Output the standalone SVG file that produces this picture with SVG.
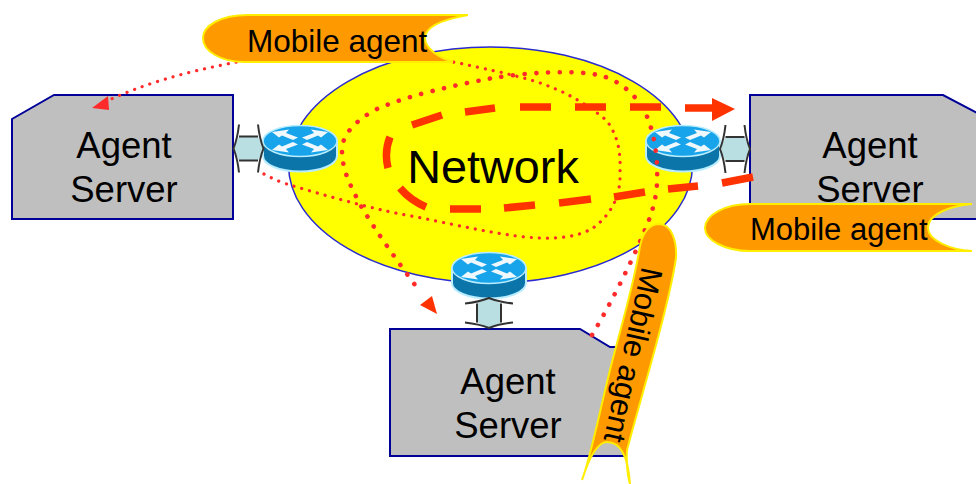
<svg xmlns="http://www.w3.org/2000/svg" width="976" height="484" viewBox="0 0 976 484">
<style>
text{font-family:"Liberation Sans",Arial,sans-serif;fill:#000}
.srv{fill:#bfbfbf;stroke:#000099;stroke-width:2}
.lbl{font-size:36.500px;text-anchor:middle}
.ma{font-size:31px}
.banner{fill:#ff9900;stroke:#ffee00;stroke-width:2}
.big{fill:none;stroke:#ff2a2a;stroke-width:4.600;stroke-linecap:round;stroke-dasharray:.1 11.600}
.small{fill:none;stroke:#ff2a2a;stroke-width:3.200;stroke-linecap:round;stroke-dasharray:.1 8}
.dash{fill:none;stroke:#ff3300;stroke-width:7.500}
</style>
<defs>
<polygon id="rarrow" points="-28,-9 -11,-11.500 -14,-8 -2,-3.500 -7,-1 -18,-5.500 -21,-3.500" fill="#eef8fd"/>
<g id="router">
<path d="M-37,0V15A37,15.500 0 0 0 37,15V0Z" fill="#0b74a8" stroke="#b8ecff" stroke-width="2"/>
<ellipse cx="0" cy="0" rx="37" ry="15.500" fill="#18a4ea" stroke="#b8ecff" stroke-width="1.500"/>
<use href="#rarrow"/>
<use href="#rarrow" transform="scale(-1,1)"/>
<use href="#rarrow" transform="scale(1,-1)"/>
<use href="#rarrow" transform="scale(-1,-1)"/>
</g>
<g id="link">
<path d="M-15,0 -9.500,-12H9.500L15,0 9.500,12H-9.500Z" fill="#b9dfe3"/>
<path d="M-9.500,-12H9.500M-9.500,12H9.500M-9.500,-24Q-11,-10 -15,0Q-11,10 -9.500,24M9.500,-24Q11,-10 15,0Q11,10 9.500,24" fill="none" stroke="#333" stroke-width="2"/>
</g>
</defs>

<g id="network">
<ellipse cx="490.500" cy="165" rx="202" ry="118" fill="#ffff00" stroke="#2a2ad0" stroke-width="1.500"/>
<text x="493" y="183" font-size="46.800" text-anchor="middle">Network</text>
</g>

<g id="server-left">
<polygon class="srv" points="12,119 54,95 233,95 233,219 12,219"/>
<text class="lbl" x="124" y="158">Agent</text>
<text class="lbl" x="124" y="202">Server</text>
</g>
<g id="server-right">
<polygon class="srv" points="750,95 943,95 977,113 977,219 750,219"/>
<text class="lbl" x="870" y="158">Agent</text>
<text class="lbl" x="870" y="202">Server</text>
</g>
<g id="server-bottom">
<polygon class="srv" points="390,329 580,329 610,347 626,347 626,456 390,456"/>
<text class="lbl" x="508" y="394">Agent</text>
<text class="lbl" x="508" y="438">Server</text>
</g>

<g id="router-left"><use href="#router" x="300" y="141"/></g>
<g id="router-right"><use href="#router" x="683" y="141"/></g>
<g id="router-bottom"><use href="#router" x="489" y="268"/></g>

<g id="connectors">
<use href="#link" transform="translate(248.500,148.500)"/>
<use href="#link" transform="translate(735,149)"/>
<use href="#link" transform="translate(489,313) rotate(90)"/>
<path class="small" d="M264,174C275,180 283,183 290,185C330,197 380,211 417,217C470,228 510,237 540,238C560,239 580,236 593,228C612,214 621,195 620,172C621,150 617,135 607,121C595,110 570,94 553,88C535,80 515,76 500,72C480,68 465,64 453,62C400,50 300,48 232,63C185,72 140,85 105,102"/>
<polygon points="92,108 108,96 109,110" fill="#ff2a2a"/>
<path class="big" d="M592,335C610,305 632,262 647,225C655,205 658,190 657,168C657,150 652,125 644,110C634,92 615,78 598,75C575,70 530,72 493,78C455,85 410,95 379,108C355,120 342,135 342,150C342,170 350,185 361,206C375,230 400,265 421,293"/>
<polygon points="420,305 437,314 432,296" fill="#ff3300"/>
<path class="dash" d="M753,177 722,183M698,186 668,189M645,192 614,197M591,199 559,203M535,205 504,208M481,209H450M426,207Q410,200 400,188M388,168Q384,152 390,137M412,125 442,115M465,112 495,108M520,107H551M575,107H606M630,107H661M685,108H714"/>
<polygon points="712,98 735,109 712,121" fill="#ff3300"/>
</g>

<g id="agent-top">
<path class="banner" d="M248,15H468C445,19 425,26 425,38C425,49 440,58 453,62H245C222,62 203,52 203,38C203,26 220,15 248,15Z"/>
<text class="ma" x="247" y="52" style="font-size:31.500px">Mobile agent</text>
</g>
<g id="agent-right">
<path class="banner" d="M750,204H972C950,206 928,214 928,228C928,240 950,250 972,251H750C725,251 705,240 705,228C705,215 725,204 750,204Z"/>
<text class="ma" x="750" y="240">Mobile agent</text>
</g>
<g id="agent-bottom">
<path class="banner" d="M660,224C671,225 677,240 676,258C668,310 640,400 627,450Q626,470 630,484C628,455 620,442 607,442C598,442 590,455 582,480C590,460 600,410 610,370C620,330 634,285 640,246C643,232 650,224 660,224Z"/>
<text class="ma" transform="translate(642,266) rotate(102.500)">Mobile agent</text>
</g>
</svg>
